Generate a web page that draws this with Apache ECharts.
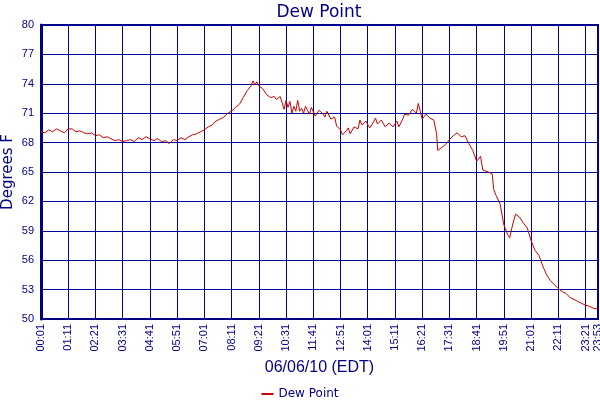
<!DOCTYPE html>
<html>
<head>
<meta charset="utf-8">
<script src="https://cdn.jsdelivr.net/npm/echarts@6/dist/echarts.min.js"></script>
<style>
  html, body { margin: 0; padding: 0; background: #fff; }
  #chart { width: 600px; height: 400px; }
</style>
</head>
<body>
<div id="chart"></div>
<script>
// readings, clock time -> dew point (F)
var times = [
  '00:01','00:11','00:21','00:31','00:41','00:51','01:01','01:11','01:21','01:31','01:41','01:51',
  '02:01','02:11','02:21','02:31','02:41','02:51','03:01','03:11','03:21','03:31','03:41','03:51',
  '04:01','04:11','04:21','04:31','04:41','04:51','05:01','05:11','05:21','05:31','05:41','05:51',
  '06:01','06:11','06:21','06:31','06:41','06:51','07:01','07:11','07:21','07:31','07:41','07:51',
  '08:01','08:11','08:21','08:31','08:41','08:51','09:01','09:06','09:11','09:16','09:21','09:31','09:41','09:51',
  '10:01','10:06','10:11','10:16','10:21','10:26','10:31','10:36','10:41','10:46','10:51','10:56',
  '11:01','11:06','11:11','11:16','11:21','11:26','11:31','11:36','11:41','11:46','11:51','11:56',
  '12:01','12:06','12:11','12:16','12:21','12:26','12:31','12:36','12:41','12:46','12:51','12:56',
  '13:01','13:06','13:11','13:16','13:21','13:26','13:31','13:36','13:41','13:46','13:51','13:56',
  '14:01','14:06','14:11','14:16','14:21','14:26','14:31','14:36','14:41','14:46','14:51','14:56',
  '15:01','15:06','15:11','15:16','15:21','15:26','15:31','15:36','15:41','15:46','15:51','15:56',
  '16:01','16:06','16:11','16:16','16:21','16:31','16:41','16:51','16:58','17:01','17:11','17:21','17:31','17:41','17:51',
  '18:01','18:11','18:21','18:31','18:41','18:51','18:57','19:01','19:11','19:21','19:25','19:31','19:41','19:46','19:51',
  '20:01','20:06','20:11','20:16','20:21','20:26','20:31','20:41','20:51',
  '21:01','21:11','21:21','21:31','21:41','21:51',
  '22:01','22:11','22:21','22:31','22:41','22:51',
  '23:01','23:11','23:21','23:31','23:41','23:53'
];
var dewPoint = [
  69.1, 69.0, 69.3, 69.1, 69.4, 69.2, 69.0, 69.4, 69.4, 69.1, 69.2, 69.0,
  68.9, 69.0, 68.7, 68.8, 68.5, 68.6, 68.4, 68.2, 68.3, 68.1, 68.2, 68.3,
  68.1, 68.5, 68.3, 68.6, 68.4, 68.2, 68.4, 68.1, 68.2, 67.9, 68.3, 68.2,
  68.5, 68.3, 68.6, 68.8, 68.9, 69.1, 69.3, 69.6, 69.8, 70.2, 70.4, 70.6,
  71.0, 71.2, 71.6, 71.9, 72.6, 73.3, 73.8, 74.3, 73.9, 74.2, 73.8, 73.5, 72.9, 72.6,
  72.7, 72.4, 72.3, 72.7, 72.5, 71.4, 72.3, 71.6, 72.2, 71.0, 71.7, 71.2,
  72.3, 71.2, 71.5, 71.0, 71.7, 71.3, 70.9, 71.6, 71.4, 70.7, 70.8, 71.3,
  71.5, 70.9, 70.6, 71.2, 71.0, 70.4, 70.2, 70.6, 69.7, 69.9, 69.3, 68.8,
  68.8, 69.2, 69.5, 68.9, 69.1, 69.6, 69.8, 69.4, 70.3, 69.8, 69.6, 70.2,
  70.0, 69.5, 69.6, 70.1, 70.5, 69.9, 69.7, 70.3, 70.2, 69.6, 69.7, 70.0,
  70.1, 69.6, 69.8, 70.2, 69.6, 70.0, 70.4, 70.9, 71.1, 70.8, 70.9, 71.4,
  71.3, 71.0, 72.0, 71.2, 70.4, 70.9, 70.5, 70.3, 68.9, 67.2, 67.5, 67.8, 68.3, 68.7, 69.0,
  68.6, 68.7, 67.9, 67.2, 66.1, 66.6, 65.2, 65.4, 65.0, 64.8, 63.2, 62.6, 61.8, 61.9, 59.6,
  58.6, 58.3, 59.2, 60.0, 60.7, 60.8, 60.4, 59.8, 59.3,
  58.0, 57.0, 56.5, 55.4, 54.5, 53.9,
  53.5, 53.1, 52.8, 52.6, 52.2, 52.0,
  51.8, 51.6, 51.4, 51.3, 51.1, 51.0
];
var yTicks = { min: 50, max: 80, step: 3 };
var xSpan = { start: '00:01', end: '23:53', step: 70 };

var navy = '#000080';
var wide = 'DejaVu Sans, Verdana, sans-serif';
var narrow = 'Liberation Sans, Arial, sans-serif';

function toMin(t) {
  var p = t.split(':');
  return (+p[0]) * 60 + (+p[1]);
}
var base = toMin(xSpan.start);
function fmt(v) {
  var m = Math.round(v) + base;
  var h = Math.floor(m / 60), mm = m % 60;
  return (h < 10 ? '0' : '') + h + ':' + (mm < 10 ? '0' : '') + mm;
}
var points = times.map(function (t, i) { return [toMin(t) - base, dewPoint[i]]; });

var chart = echarts.init(document.getElementById('chart'));
chart.setOption({
  animation: false,
  backgroundColor: '#fff',
  title: {
    text: 'Dew Point', left: 314, textAlign: 'center', top: -1,
    textStyle: { color: navy, fontSize: 17, fontWeight: 'normal', fontFamily: wide }
  },
  legend: {
    top: 383, left: 'center',
    icon: 'rect', itemWidth: 12, itemHeight: 2, itemGap: 4,
    textStyle: { color: navy, fontSize: 12, fontFamily: wide },
    data: ['Dew Point']
  },
  grid: {
    left: 41, right: 2, top: 25, bottom: 81,
    outerBoundsMode: 'none',
    show: true, borderColor: navy, borderWidth: 2
  },
  xAxis: {
    type: 'value',
    min: 0, max: toMin(xSpan.end) - base, interval: xSpan.step,
    name: '06/06/10 (EDT)', nameLocation: 'middle', nameGap: 41, nameMoveOverlap: false,
    nameTextStyle: { color: navy, fontSize: 16, fontFamily: narrow },
    axisLine: { lineStyle: { color: navy, width: 2 } },
    axisTick: { show: false },
    axisLabel: { rotate: 90, color: navy, fontSize: 11, fontFamily: narrow, formatter: fmt, margin: 5 },
    splitLine: { show: true, lineStyle: { color: '#00009a', width: 1 } }
  },
  yAxis: {
    type: 'value',
    min: yTicks.min, max: yTicks.max, interval: yTicks.step,
    name: 'Degrees F', nameLocation: 'middle', nameGap: 25, nameMoveOverlap: false,
    nameTextStyle: { color: navy, fontSize: 15, fontFamily: wide },
    axisLine: { show: true, lineStyle: { color: navy, width: 3 } },
    axisTick: { show: false },
    axisLabel: { color: navy, fontSize: 11, fontFamily: narrow, margin: 7 },
    splitLine: { show: true, lineStyle: { color: '#00009a', width: 1 } }
  },
  series: [{
    name: 'Dew Point',
    type: 'line',
    data: points,
    showSymbol: false,
    symbol: 'none',
    lineStyle: { color: '#cc0000', width: 1 },
    itemStyle: { color: '#cc0000' }
  }]
});
</script>
</body>
</html>
